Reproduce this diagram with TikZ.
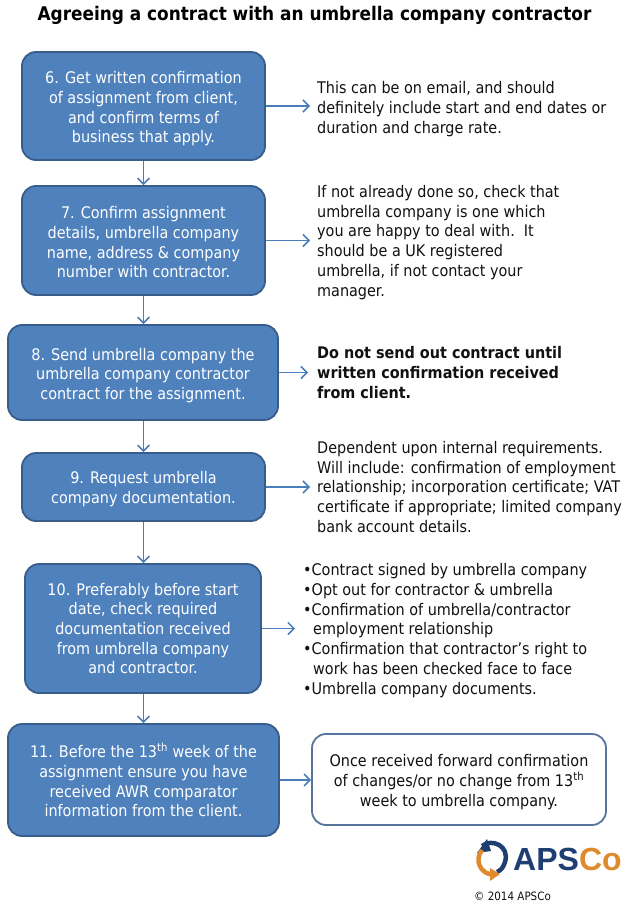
\documentclass[tikz,border=0pt]{standalone}
\usepackage{fontspec}
\setmainfont{DejaVu Sans Condensed}
\newfontfamily\logofont{Liberation Sans}
\usetikzlibrary{arrows.meta}
\definecolor{boxfill}{HTML}{4F81BD}
\definecolor{boxline}{HTML}{385D8A}
\definecolor{arrowc}{HTML}{4A7EBB}
\definecolor{textdark}{HTML}{111111}
\definecolor{logoblue}{HTML}{1F3F73}
\definecolor{logoorange}{HTML}{E08A2E}
\newcommand{\pushdown}[1]{\rule{0pt}{#1}}
\tikzset{
  stepbox/.style={draw=boxline,line width=1.8pt,fill=boxfill,rounded corners=14pt,text=white,align=center,inner sep=0pt,font=\fontsize{16}{19.7}\selectfont},
  outbox/.style={draw=boxline!85,line width=1.8pt,fill=white,rounded corners=14pt,text=textdark,align=center,inner sep=0pt,font=\fontsize{16}{19.7}\selectfont},
  notetext/.style={anchor=west,align=left,inner sep=0pt,text=textdark,font=\fontsize{16}{19.9}\selectfont},
  link/.style={draw=arrowc,line width=1.2pt,-{Straight Barb[length=6pt,width=12pt,line width=1.5pt]}}
}
\begin{document}
\begin{tikzpicture}[x=1pt,y=-1pt]
\useasboundingbox (0,0) rectangle (638,909);
\node[anchor=center,inner sep=0pt,text=black,font=\fontsize{18.8}{22}\selectfont\bfseries] (title) at (314.5,15.5) {Agreeing a contract with an umbrella company contractor};

\node[stepbox,minimum width=243pt,minimum height=108pt] (s6) at (143.5,106) {\pushdown{18pt}6. Get written confirmation\\of assignment from client,\\and confirm terms of\\business that apply.};
\node[stepbox,minimum width=243pt,minimum height=109pt] (s7) at (143.5,240.5) {\pushdown{16pt}7. Confirm assignment\\details, umbrella company\\name, address \& company\\number with contractor.};
\node[stepbox,minimum width=270pt,minimum height=95pt] (s8) at (143,372.5) {\pushdown{18pt}8. Send umbrella company the\\umbrella company contractor\\contract for the assignment.};
\node[stepbox,minimum width=243pt,minimum height=68pt] (s9) at (143.5,487) {\pushdown{17pt}9. Request umbrella\\company documentation.};
\node[stepbox,minimum width=236pt,minimum height=129pt] (s10) at (143,628.5) {10. Preferably before start\\date, check required\\documentation received\\from umbrella company\\and contractor.};
\node[stepbox,minimum width=271pt,minimum height=112pt] (s11) at (143.5,780) {11. Before the 13\textsuperscript{th} week of the\\assignment ensure you have\\received AWR comparator\\information from the client.};
\node[outbox,minimum width=294pt,minimum height=91pt] (out) at (459,779.5) {\pushdown{17pt}Once received forward confirmation\\of changes/or no change from 13\textsuperscript{th}\\week to umbrella company.};

\node[notetext] (n6) at (317,109) {This can be on email, and should\\definitely include start and end dates or\\duration and charge rate.};
\node[notetext] (n7) at (317,242.5) {If not already done so, check that\\umbrella company is one which\\you are happy to deal with.\ \ It\\should be a UK registered\\umbrella, if not contact your\\manager.};
\node[notetext,font=\fontsize{16}{20.3}\selectfont\bfseries] (n8) at (317,372.5) {Do not send out contract until\\written confirmation received\\from client.};
\node[notetext] (n9) at (317,487) {Dependent upon internal requirements.\\Will include: confirmation of employment\\relationship; incorporation certificate; VAT\\certificate if appropriate; limited company\\bank account details.};
\node[notetext] (n10) at (303,630.5) {•Contract signed by umbrella company\\•Opt out for contractor \& umbrella\\•Confirmation of umbrella/contractor\\\hspace*{10pt}employment relationship\\•Confirmation that contractor’s right to\\\hspace*{10pt}work has been checked face to face\\•Umbrella company documents.};

\coordinate (e6) at (310,106);
\coordinate (e7) at (310,240);
\coordinate (e8) at (308,372);
\coordinate (e9) at (310,487);
\coordinate (e10) at (295,629);

\draw[link] (s6.south) -- (s7.north);
\draw[link] (s7.south) -- (s8.north -| s7.south);
\draw[link] (s8.south -| s7.south) -- (s9.north);
\draw[link] (s9.south) -- (s10.north -| s9.south);
\draw[link] (s10.south -| s9.south) -- (s11.north -| s9.south);
\draw[link] (s6.east) -- (s6.east -| e6);
\draw[link] (s7.east) -- (s7.east -| e7);
\draw[link] (s8.east) -- (s8.east -| e8);
\draw[link] (s9.east) -- (s9.east -| e9);
\draw[link] (s10.east) -- (s10.east -| e10);
\draw[link] (s11.east) -- (s11.east -| out.west);

% logo
\draw[logoblue,line width=4.5pt] (482,846) .. controls (492,838) and (510,846) .. (505,862) .. controls (503,868) and (501,870) .. (497,872);
\fill[logoblue] (477,853) -- (487,839) -- (491,851) -- cycle;
\draw[logoorange,line width=4.5pt] (482,850) .. controls (474,860) and (480,874) .. (494,875);
\fill[logoorange] (490,868) -- (490,881) -- (500,874) -- cycle;
\node[anchor=west,inner sep=0pt,font=\fontsize{32}{32}\selectfont\logofont\bfseries] (logo) at (513,859) {\textcolor{logoblue}{APS}\textcolor{logoorange}{Co}};
\node[anchor=west,inner sep=0pt,text=textdark,font=\fontsize{11.5}{14}\selectfont] (copy) at (474,896) {© 2014 APSCo};
\end{tikzpicture}
\end{document}
